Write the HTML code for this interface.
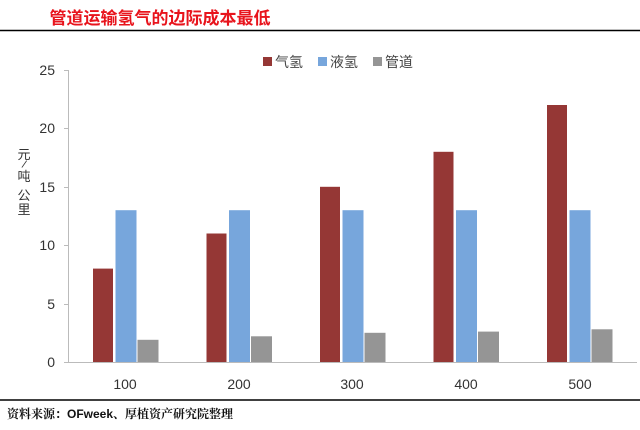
<!DOCTYPE html>
<html><head><meta charset="utf-8"><style>
html,body{margin:0;padding:0;background:#fff;}
body{width:640px;height:425px;overflow:hidden;}
</style></head><body>
<svg width="640" height="425" xmlns="http://www.w3.org/2000/svg" font-family="Liberation Sans, Noto Sans CJK SC, sans-serif">
<text x="160" y="24" font-size="17" font-weight="bold" fill="#e8141c" text-anchor="middle" font-family="Liberation Sans, Noto Sans CJK SC, sans-serif">管道运输氢气的边际成本最低</text>
<line x1="0" y1="30.5" x2="640" y2="30.5" stroke="#000" stroke-width="1.5"/>
<line x1="0" y1="400" x2="640" y2="400" stroke="#000" stroke-width="1.5"/>
<text x="7" y="418" font-size="12" font-weight="bold" fill="#111" font-family="Liberation Sans, Noto Serif CJK SC, sans-serif">资料来源：OFweek、厚植资产研究院整理</text>
<g stroke="#bbb" stroke-width="1">
<line x1="68.5" y1="70" x2="68.5" y2="362"/>
<line x1="64" y1="70.5" x2="68" y2="70.5"/>
<line x1="64" y1="128.5" x2="68" y2="128.5"/>
<line x1="64" y1="187.5" x2="68" y2="187.5"/>
<line x1="64" y1="245.5" x2="68" y2="245.5"/>
<line x1="64" y1="304.5" x2="68" y2="304.5"/>
<line x1="64" y1="362.5" x2="637" y2="362.5"/>
</g>
<g font-size="14" fill="#333" text-anchor="end">
<text x="55" y="75">25</text><text x="55" y="133">20</text><text x="55" y="192">15</text>
<text x="55" y="250">10</text><text x="55" y="309">5</text><text x="55" y="367">0</text>
</g>
<g font-size="13" fill="#333" text-anchor="middle" font-family="Liberation Sans, Noto Sans CJK SC, sans-serif">
<text x="24" y="159">元</text>
<text x="24" y="168" font-size="11" transform="rotate(20 24 165)">/</text>
<text x="24" y="181">吨</text>
<text x="24" y="200">公</text>
<text x="24" y="214">里</text>
</g>
<g>
<rect x="93" y="268.6" width="20" height="93.4" fill="#953735"/>
<rect x="115.5" y="210.2" width="21" height="151.8" fill="#77a6dc"/>
<rect x="137.5" y="339.8" width="21" height="22.2" fill="#959595"/>
<rect x="206.5" y="233.5" width="20" height="128.5" fill="#953735"/>
<rect x="229" y="210.2" width="21" height="151.8" fill="#77a6dc"/>
<rect x="251" y="336.3" width="21" height="25.7" fill="#959595"/>
<rect x="320" y="186.8" width="20" height="175.2" fill="#953735"/>
<rect x="342.5" y="210.2" width="21" height="151.8" fill="#77a6dc"/>
<rect x="364.5" y="332.8" width="21" height="29.2" fill="#959595"/>
<rect x="433.5" y="151.8" width="20" height="210.2" fill="#953735"/>
<rect x="456" y="210.2" width="21" height="151.8" fill="#77a6dc"/>
<rect x="478" y="331.6" width="21" height="30.4" fill="#959595"/>
<rect x="547" y="105" width="20" height="257" fill="#953735"/>
<rect x="569.5" y="210.2" width="21" height="151.8" fill="#77a6dc"/>
<rect x="591.5" y="329.3" width="21" height="32.7" fill="#959595"/>
</g>
<g font-size="14" fill="#333" text-anchor="middle">
<text x="125" y="389">100</text><text x="239" y="389">200</text><text x="352" y="389">300</text>
<text x="466" y="389">400</text><text x="580" y="389">500</text>
</g>
<g font-size="14" fill="#444" font-family="Liberation Sans, Noto Sans CJK SC, sans-serif">
<rect x="263" y="57" width="9" height="9" fill="#953735"/><text x="275" y="67">气氢</text>
<rect x="318" y="57" width="9" height="9" fill="#77a6dc"/><text x="330" y="67">液氢</text>
<rect x="373" y="57" width="9" height="9" fill="#959595"/><text x="385" y="67">管道</text>
</g>
</svg>
</body></html>
